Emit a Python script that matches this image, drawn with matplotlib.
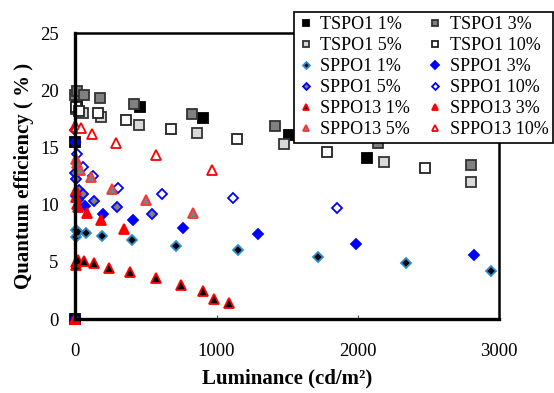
import matplotlib
matplotlib.use("Agg")
import matplotlib.pyplot as plt

plt.rcParams['font.family'] = ['Liberation Serif', 'DejaVu Serif']

# luminance (cd/m2) and quantum efficiency (%)
tspo1_1_x = [0, 1, 10, 457, 903, 1511, 2064]
tspo1_1_y = [0, 15.5, 19.1, 18.5, 17.6, 16.1, 14.1]
tspo1_3_x = [1, 9, 61, 174, 413, 823, 1413, 2143, 2802]
tspo1_3_y = [19.6, 19.9, 19.6, 19.3, 18.8, 17.9, 16.9, 15.4, 13.5]
tspo1_5_x = [2, 54, 179, 452, 863, 1476, 2186, 2802]
tspo1_5_y = [18.4, 18.0, 17.7, 17.0, 16.3, 15.3, 13.75, 12.0]
tspo1_10_x = [8, 25, 162, 356, 679, 1146, 1778, 2472]
tspo1_10_y = [18.5, 18.2, 18.0, 17.4, 16.6, 15.7, 14.6, 13.2]

sppo1_1_x = [2, 5, 18, 75, 186, 398, 710, 1153, 1717, 2342, 2943]
sppo1_1_y = [7.2, 7.8, 7.6, 7.5, 7.3, 6.9, 6.4, 6.0, 5.4, 4.9, 4.2]
sppo1_3_x = [0, 1, 3, 20, 68, 198, 410, 764, 1294, 1990, 2821]
sppo1_3_y = [0, 15.5, 10.8, 10.4, 9.9, 9.2, 8.65, 8.0, 7.4, 6.6, 5.6]
sppo1_5_x = [1, 3, 25, 56, 134, 292, 540]
sppo1_5_y = [12.8, 12.2, 11.3, 10.9, 10.3, 9.8, 9.15]
sppo1_10_x = [1, 13, 52, 127, 304, 611, 1113, 1849]
sppo1_10_y = [16.5, 14.4, 13.3, 12.5, 11.5, 10.9, 10.6, 9.7]

sppo13_1_x = [0, 2, 5, 20, 61, 134, 240, 386, 568, 745, 903, 981, 1089]
sppo13_1_y = [0, 4.7, 5.0, 5.15, 5.1, 4.9, 4.5, 4.15, 3.6, 3.0, 2.45, 1.8, 1.4]
sppo13_3_x = [0, 1, 2, 5, 12, 20, 80, 179, 344]
sppo13_3_y = [0, 16.9, 11.3, 10.7, 10.1, 9.8, 9.25, 8.65, 7.9]
sppo13_5_x = [2, 10, 33, 108, 257, 500, 834]
sppo13_5_y = [14.0, 13.6, 13.0, 12.4, 11.4, 10.4, 9.25]
sppo13_10_x = [2, 37, 115, 285, 568, 965]
sppo13_10_y = [16.8, 16.7, 16.2, 15.4, 14.3, 13.0]

series = [
    ('TSPO1 1%', tspo1_1_x, tspo1_1_y, 's', 'black', 'black', 6.5),
    ('TSPO1 3%', tspo1_3_x, tspo1_3_y, 's', '#808080', '#333333', 6.5),
    ('TSPO1 5%', tspo1_5_x, tspo1_5_y, 's', '#d9d9d9', '#333333', 6.5),
    ('TSPO1 10%', tspo1_10_x, tspo1_10_y, 's', 'white', '#222222', 6.5),
    ('SPPO1 1%', sppo1_1_x, sppo1_1_y, 'D', 'black', '#2b8fd6', 5),
    ('SPPO1 3%', sppo1_3_x, sppo1_3_y, 'D', '#0000ff', '#0000ff', 5.5),
    ('SPPO1 5%', sppo1_5_x, sppo1_5_y, 'D', '#808080', '#0000ff', 5),
    ('SPPO1 10%', sppo1_10_x, sppo1_10_y, 'D', 'white', '#0000ff', 5),
    ('SPPO13 1%', sppo13_1_x, sppo13_1_y, '^', 'black', '#ff0000', 7),
    ('SPPO13 3%', sppo13_3_x, sppo13_3_y, '^', '#ff0000', '#ff0000', 7),
    ('SPPO13 5%', sppo13_5_x, sppo13_5_y, '^', '#808080', '#ff3333', 7),
    ('SPPO13 10%', sppo13_10_x, sppo13_10_y, '^', 'white', '#ff0000', 7),
]

fig = plt.figure(figsize=(5.54, 3.93), dpi=100)
ax = fig.add_axes([0.136, 0.188, 0.765, 0.728])

handles = []
for label, x, y, m, fc, ec, ms in series:
    h, = ax.plot(x, y, linestyle='none', marker=m, markersize=ms,
                 markerfacecolor=fc, markeredgecolor=ec, markeredgewidth=1.3,
                 label=label, clip_on=False)
    handles.append(h)

ax.set_xlim(0, 3000)
ax.set_ylim(0, 25)
ax.set_xticks([0, 1000, 2000, 3000])
ax.set_yticks([0, 5, 10, 15, 20, 25])
ax.tick_params(direction='in', length=3, color='#555555', labelsize=13.5)
ax.tick_params(axis='x', pad=17)
ax.tick_params(axis='y', pad=12)

for side in ['left', 'bottom']:
    ax.spines[side].set_linewidth(2.4)
for side in ['top', 'right']:
    ax.spines[side].set_linewidth(1.8)

ax.set_xlabel('Luminance (cd/m²)', fontsize=15, fontweight='bold', labelpad=6)
ax.set_ylabel('Quantum efficiency ( % )', fontsize=15, fontweight='bold', labelpad=4)

# legend is filled row by row in the original: reorder for column filling
order = [0, 2, 4, 6, 8, 10, 1, 3, 5, 7, 9, 11]
leg = fig.legend([handles[i] for i in order], [series[i][0] for i in order],
                 loc='upper right', bbox_to_anchor=(0.998, 0.97), ncol=2,
                 fontsize=13, markerscale=0.7, handlelength=0.8,
                 handletextpad=0.4, columnspacing=1.0, labelspacing=0.22,
                 borderpad=0.25, borderaxespad=0, fancybox=False, framealpha=1)
leg.get_frame().set_edgecolor('black')
leg.get_frame().set_linewidth(1.2)

fig.savefig('out.png', dpi=100)
